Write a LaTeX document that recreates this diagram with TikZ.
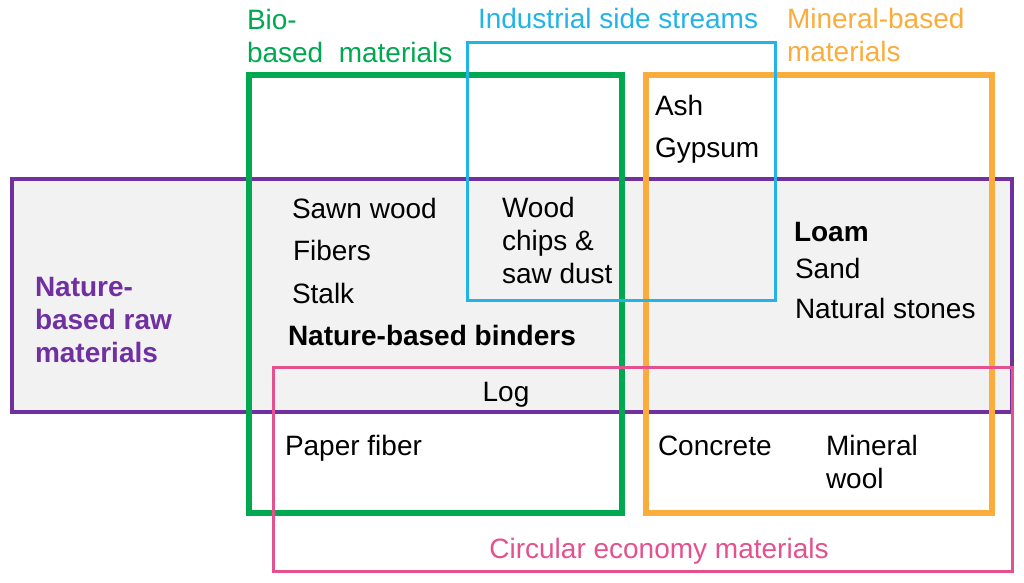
\documentclass[tikz,border=0pt]{standalone}
\usepackage{fontspec}
\setmainfont{Liberation Sans}
\definecolor{cpurple}{HTML}{7030A0}
\definecolor{cgreen}{HTML}{00A850}
\definecolor{cblue}{HTML}{22B4E8}
\definecolor{corange}{HTML}{FAAD3C}
\definecolor{cpink}{HTML}{E4518E}
\definecolor{cgray}{HTML}{F2F2F2}
\begin{document}
\begin{tikzpicture}[x=1pt,y=-1pt,
  every node/.style={inner sep=0pt,outer sep=0pt,font=\fontsize{28}{32}\selectfont},
  lbl/.style={anchor=base west},
  bold/.style={font=\fontsize{28}{32}\selectfont\bfseries}]
\useasboundingbox (0,0) rectangle (1024,582);
% boxes
\draw[cpurple,line width=4pt,fill=cgray] (12,179) rectangle (1012,412);
\draw[cgreen,line width=6pt] (249,75) rectangle (622,513);
\draw[corange,line width=6pt] (646,75) rectangle (992,513);
\draw[cblue,line width=3pt] (467,42) rectangle (775,300);
\draw[cpink,line width=3pt] (273,367) rectangle (1012,571);
% group labels
\node[lbl,text=cgreen] (bio1) at (247,29) {Bio-};
\node[lbl,text=cgreen] (bio2) at (247,62) {based\ \ materials};
\node[lbl,text=cblue] (ind) at (478,28) {Industrial side streams};
\node[lbl,text=corange] (min1) at (787,28) {Mineral-based};
\node[lbl,text=corange] (min2) at (787,61) {materials};
\node[lbl,bold,text=cpurple] (nat1) at (35,296) {Nature-};
\node[lbl,bold,text=cpurple] (nat2) at (35,329) {based raw};
\node[lbl,bold,text=cpurple] (nat3) at (35,362) {materials};
\node[anchor=base,text=cpink] (circ) at (659,558) {Circular economy materials};
% items
\node[lbl] (ash) at (655,115) {Ash};
\node[lbl] (gyp) at (655,157) {Gypsum};
\node[lbl] (sawn) at (292,218) {Sawn wood};
\node[lbl] (fib) at (293,260) {Fibers};
\node[lbl] (stalk) at (292,303) {Stalk};
\node[lbl,bold] (binders) at (288,345) {Nature-based binders};
\node[lbl] (wood1) at (502,217) {Wood};
\node[lbl] (wood2) at (502,250) {chips \&};
\node[lbl] (wood3) at (502,283) {saw dust};
\node[lbl,bold] (loam) at (794,241) {Loam};
\node[lbl] (sand) at (795,278) {Sand};
\node[lbl] (stones) at (795,318) {Natural stones};
\node[anchor=base] (log) at (506,401) {Log};
\node[lbl] (paper) at (285,455) {Paper fiber};
\node[lbl] (concrete) at (658,455) {Concrete};
\node[lbl] (minw1) at (826,455) {Mineral};
\node[lbl] (minw2) at (826,488) {wool};
\end{tikzpicture}
\end{document}
